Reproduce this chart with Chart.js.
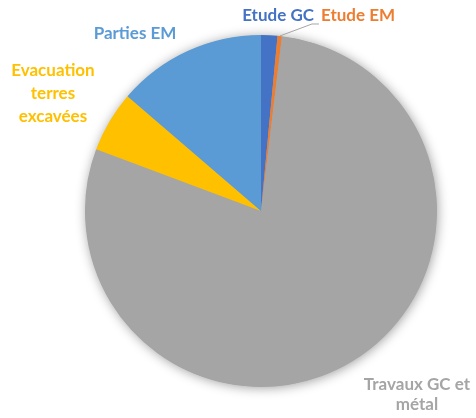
<!DOCTYPE html>
<html>
<head>
<meta charset="utf-8">
<script src="https://cdn.jsdelivr.net/npm/chart.js@4.4.1/dist/chart.umd.min.js"></script>
<style>
    html, body { margin: 0; padding: 0; background: #fff; }
    #chart { display: block; }
</style>
</head>
<body>
<canvas id="chart" width="476" height="418"></canvas>
<script>
// chart data
const categories = ['Etude GC', 'Etude EM', 'Travaux GC et métal', 'Evacuation terres excavées', 'Parties EM'];
const shares = [1.5, 0.4, 78.8, 5.6, 13.7];
const sliceColors = ['#4472C4', '#ED7D31', '#A5A5A5', '#FFC000', '#5B9BD5'];

// label text lines, offsets are in units of pie radius from the centre
const labelSetup = [
    {lines: ['Etude GC'], dx: 0.097, dy: -1.108, lh: 20},
    {lines: ['Etude EM'], dx: 0.551, dy: -1.108, lh: 20, leader: true},
    {lines: ['Travaux GC et', 'métal'], dx: 0.886, dy: 1.045, lh: 20},
    {lines: ['Evacuation', 'terres', 'excavées'], dx: -1.182, dy: -0.665, lh: 23},
    {lines: ['Parties EM'], dx: -0.716, dy: -1.011, lh: 20}
];

const pieShadow = {
    id: 'pieShadow',
    beforeDatasetsDraw(chart) {
        const arc = chart.getDatasetMeta(0).data[0];
        if (!arc) return;
        const {x, y, outerRadius} = arc.getProps(['x', 'y', 'outerRadius'], true);
        const ctx = chart.ctx;
        ctx.save();
        ctx.shadowColor = 'rgba(0,0,0,0.4)';
        ctx.shadowBlur = 12;
        ctx.shadowOffsetX = 1;
        ctx.shadowOffsetY = 1;
        ctx.fillStyle = '#A5A5A5';
        ctx.beginPath();
        ctx.arc(x, y, outerRadius - 0.5, 0, Math.PI * 2);
        ctx.fill();
        ctx.restore();
    }
};

const sliceLabels = {
    id: 'sliceLabels',
    afterDatasetsDraw(chart) {
        const ctx = chart.ctx;
        const arcs = chart.getDatasetMeta(0).data;
        ctx.save();
        ctx.font = 'bold 17px Lato';
        ctx.textAlign = 'center';
        ctx.textBaseline = 'middle';
        arcs.forEach((arc, i) => {
            const {x, y, outerRadius, startAngle, endAngle} = arc.getProps(['x', 'y', 'outerRadius', 'startAngle', 'endAngle'], true);
            const setup = labelSetup[i];
            const lx = x + setup.dx * outerRadius;
            const ly = y + setup.dy * outerRadius;
            const top = ly - (setup.lines.length - 1) * setup.lh / 2;

            if (setup.leader) {
                const mid = (startAngle + endAngle) / 2;
                const w = ctx.measureText(setup.lines[0]).width;
                const px = x + Math.cos(mid) * outerRadius;
                const py = y + Math.sin(mid) * outerRadius;
                ctx.strokeStyle = '#A5A5A5';
                ctx.lineWidth = 1;
                ctx.beginPath();
                ctx.moveTo(px, py);
                ctx.lineTo(lx - w / 2 - 9, ly + 8);
                ctx.lineTo(lx - w / 2 - 2, ly + 8);
                ctx.stroke();
            }

            ctx.fillStyle = sliceColors[i];
            setup.lines.forEach((line, k) => ctx.fillText(line, lx, top + k * setup.lh));
        });
        ctx.restore();
    }
};

new Chart(document.getElementById('chart'), {
    type: 'pie',
    data: {
        labels: categories,
        datasets: [{
            data: shares,
            backgroundColor: sliceColors,
            borderWidth: 0,
            hoverOffset: 0
        }]
    },
    options: {
        responsive: false,
        animation: false,
        layout: {padding: {left: 85, right: 39, top: 35, bottom: 31}},
        plugins: {
            legend: {display: false},
            tooltip: {enabled: false}
        }
    },
    plugins: [pieShadow, sliceLabels]
});
</script>
</body>
</html>
